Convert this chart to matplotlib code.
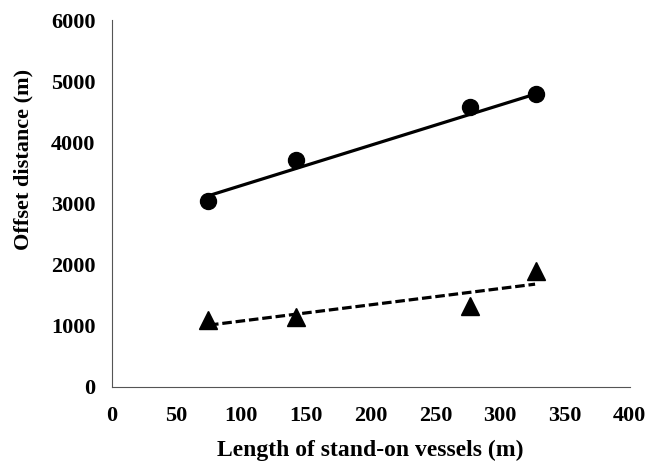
import matplotlib
matplotlib.use("Agg")
import matplotlib.pyplot as plt

# values
length = [74, 142, 277, 328]
offset_circle = [3040, 3720, 4575, 4790]
offset_triangle = [1090, 1135, 1330, 1890]

# trend lines (end points)
trend_x = [75, 327]
trend_circle = [3130, 4790]
trend_triangle = [1010, 1680]

xticks = [0, 50, 100, 150, 200, 250, 300, 350, 400]
yticks = [0, 1000, 2000, 3000, 4000, 5000, 6000]

plt.rcParams['font.family'] = ['Liberation Serif', 'DejaVu Serif']
plt.rcParams['font.weight'] = 'bold'

fig = plt.figure(figsize=(6.47, 4.70), dpi=100)
ax = fig.add_axes([0.173, 0.177, 0.80, 0.78])

ax.plot(trend_x, trend_circle, color='black', lw=2.3, solid_capstyle='butt')
ax.plot(trend_x, trend_triangle, color='black', lw=2.3, ls=(0, (3, 1.2)))
ax.plot(length, offset_circle, 'o', color='black', ms=11.5, ls='none')
ax.plot(length, offset_triangle, '^', color='black', ms=12.5, ls='none')

ax.set_xlim(0, 400)
ax.set_ylim(0, 6000)
ax.set_xticks(xticks)
ax.set_yticks(yticks)
ax.tick_params(length=0, labelsize=16)
ax.tick_params(axis='x', pad=14)
ax.tick_params(axis='y', pad=12)
for lab in ax.get_xticklabels() + ax.get_yticklabels():
    lab.set_fontweight('bold')

for side in ('top', 'right'):
    ax.spines[side].set_visible(False)
for side in ('left', 'bottom'):
    ax.spines[side].set_color('#555555')
    ax.spines[side].set_linewidth(0.8)
    ax.spines[side].set_linestyle((0, (6, 1)))

ax.set_xlabel('Length of stand-on vessels (m)', fontsize=17, fontweight='bold', labelpad=10)
ax.set_ylabel('Offset distance (m)', fontsize=16, fontweight='bold', labelpad=12)
ax.yaxis.set_label_coords(-0.152, 0.62)

fig.savefig('out.png', dpi=100)
